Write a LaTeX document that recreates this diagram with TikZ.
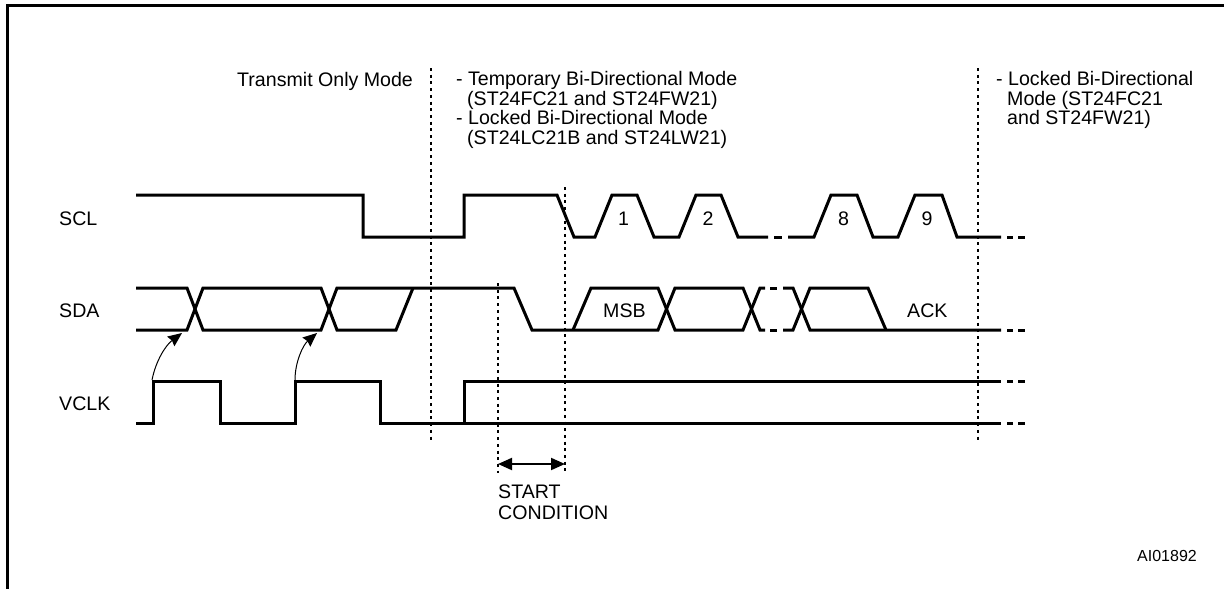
\documentclass[tikz,border=0pt]{standalone}
\usepackage{fontspec}
\setmainfont{Liberation Sans}
\usetikzlibrary{arrows.meta}
\tikzset{
  x=1pt,y=-1pt,
  frame/.style={line width=3pt,line cap=butt,line join=miter},
  wave/.style={line width=3pt,line join=miter,line cap=butt},
  guide/.style={line width=2pt,dash pattern=on 3pt off 3.7pt},
  txt/.style={inner sep=0pt,font=\fontsize{19.6}{19.7}\selectfont,align=left,anchor=base west},
  small/.style={inner sep=0pt,font=\fontsize{16}{16}\selectfont,anchor=base west},
  causes/.style={line width=1pt,-{Stealth[length=14pt,width=12pt,inset=1.5pt]}},
  span/.style={line width=2pt,{Triangle[length=14pt,width=12pt]}-{Triangle[length=14pt,width=12pt]}},
}
\begin{document}
\begin{tikzpicture}
\useasboundingbox (0,0) rectangle (1224,589);
% frame
\draw[frame] (7.5,589) -- (7.5,5.5) -- (1224,5.5);
% guides
\draw[guide] (430.5,68) -- (430.5,440);
\draw[guide] (978,68) -- (978,440);
\draw[guide] (565,187) -- (565,473);
\draw[guide] (498,283) -- (498,473);
% SCL
\draw[wave] (136,195) -- (363,195) -- (363,237) -- (464,237) -- (464,195) -- (557,195) -- (574,237) -- (595,237) -- (612,195) -- (637,195) -- (654,237) -- (679,237) -- (696,195) -- (721,195) -- (738,237) -- (768,237);
\draw[wave] (774,237) -- (782,237);
\draw[wave] (788,237) -- (814,237) -- (831,195) -- (857,195) -- (873,237) -- (898,237) -- (915,195) -- (942,195) -- (957,237) -- (1001,237);
\draw[wave] (1007,237) -- (1013,237);
\draw[wave] (1018,237) -- (1025,237);
% SDA
\draw[wave] (136,288) -- (187,288) -- (203,330) -- (321,330) -- (337,288) -- (514,288) -- (532,330) -- (658,330) -- (675,288) -- (743,288) -- (760,330) -- (765,330);
\draw[wave] (136,330) -- (187,330) -- (203,288) -- (321,288) -- (337,330) -- (396,330) -- (413,288);
\draw[wave] (573,330) -- (591,288) -- (658,288) -- (675,330) -- (743,330) -- (760,288) -- (765,288);
\draw[wave] (770,288) -- (777,288);
\draw[wave] (770,330) -- (777,330);
\draw[wave] (783,288) -- (793,288) -- (810,330) -- (1001,330);
\draw[wave] (783,330) -- (793,330) -- (810,288) -- (868,288) -- (886,330);
\draw[wave] (1007,330) -- (1013,330);
\draw[wave] (1018,330) -- (1025,330);
% VCLK
\draw[wave] (136,423) -- (153,423) -- (153,381) -- (220,381) -- (220,423) -- (295,423) -- (295,381) -- (380,381) -- (380,423) -- (1001,423);
\draw[wave] (464,424.5) -- (464,381) -- (1001,381);
\draw[wave] (1007,381) -- (1013,381);
\draw[wave] (1018,381) -- (1025,381);
\draw[wave] (1007,423) -- (1013,423);
\draw[wave] (1018,423) -- (1025,423);
% arrows
\coordinate (c1) at (152,380);
\coordinate (e1) at (182,333);
\coordinate (c2) at (295,380);
\coordinate (e2) at (317,333);
\draw[causes] (c1) .. controls (156,360) and (166,345) .. (e1);
\draw[causes] (c2) .. controls (295,362) and (303,345) .. (e2);
\coordinate (sa) at (498,464);
\coordinate (sb) at (565,464);
\draw[span] (sa) -- (sb);
% labels
\node[txt] (tm) at (237,86) {Transmit Only Mode};
\node[txt,anchor=north west] (mid) at (456,71) {- Temporary Bi-Directional Mode\\\hspace*{11pt}(ST24FC21 and ST24FW21)\\- Locked Bi-Directional Mode\\\hspace*{11pt}(ST24LC21B and ST24LW21)};
\node[txt,anchor=north west] (rt) at (996,71) {- Locked Bi-Directional\\\hspace*{11pt}Mode (ST24FC21\\\hspace*{11pt}and ST24FW21)};
\node[txt] (scl) at (59,225) {SCL};
\node[txt] (sda) at (59,317) {SDA};
\node[txt] (vclk) at (59,410) {VCLK};
\node[txt] (n1) at (618,225) {1};
\node[txt] (n2) at (702.5,225) {2};
\node[txt] (n8) at (838,225) {8};
\node[txt] (n9) at (921.5,225) {9};
\node[txt] (msb) at (603,317) {MSB};
\node[txt] (ack) at (907,317) {ACK};
\node[txt,anchor=north west,font=\fontsize{19.6}{20.5}\selectfont] (sc) at (498,485) {START\\CONDITION};
\node[small] (ai) at (1137,561) {AI01892};
\end{tikzpicture}
\end{document}
